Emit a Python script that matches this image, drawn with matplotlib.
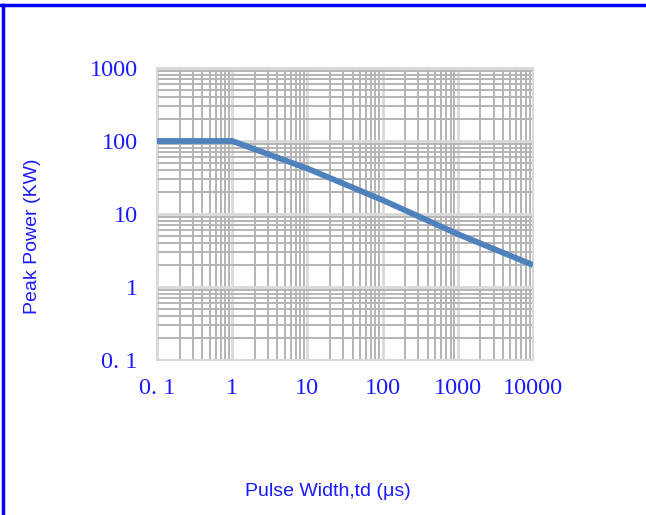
import matplotlib
matplotlib.use("Agg")
import matplotlib.pyplot as plt
from matplotlib.ticker import LogLocator, FixedLocator, NullFormatter
from matplotlib.lines import Line2D

# Data
pulse_width = [0.1, 1, 10, 100, 1000, 10000]
peak_power = [100, 100, 42, 15.5, 5.3, 2.0]
x_ticks = [0.1, 1, 10, 100, 1000, 10000]
x_labels = ["0. 1", "1", "10", "100", "1000", "10000"]
y_ticks = [0.1, 1, 10, 100, 1000]
y_labels = ["0. 1", "1", "10", "100", "1000"]

W, H = 646, 515
fig = plt.figure(figsize=(W / 100, H / 100), dpi=100)
ax = fig.add_axes([157 / W, 1 - 360 / H, (533 - 157) / W, (360 - 68) / H])

ax.set_xscale("log")
ax.set_yscale("log")
ax.set_xlim(0.1, 10000)
ax.set_ylim(0.1, 1000)

ax.xaxis.set_major_locator(FixedLocator(x_ticks))
ax.yaxis.set_major_locator(FixedLocator(y_ticks))
ax.xaxis.set_minor_locator(LogLocator(base=10, subs=range(2, 10), numticks=20))
ax.yaxis.set_minor_locator(LogLocator(base=10, subs=range(2, 10), numticks=20))
ax.xaxis.set_minor_formatter(NullFormatter())
ax.yaxis.set_minor_formatter(NullFormatter())
ax.set_xticklabels(x_labels)
ax.set_yticklabels(y_labels)

blue = "#1a1aff"
ax.tick_params(which="both", length=0)
ax.tick_params(axis="x", pad=13, labelsize=17.5, labelcolor=blue)
ax.tick_params(axis="y", pad=14, labelsize=17.5, labelcolor=blue)
for lab in ax.get_xticklabels() + ax.get_yticklabels():
    lab.set_fontfamily("Liberation Serif")

ax.grid(which="major", color="#d9d9d9", linewidth=2.0)
ax.grid(which="minor", color="#b4b4b4", linewidth=1.4)
ax.set_axisbelow(True)
for s in ax.spines.values():
    s.set_color("#d9d9d9")
    s.set_linewidth(1.5)

ax.plot(pulse_width, peak_power, color="#4f81bd", linewidth=4.2,
        solid_capstyle="butt", solid_joinstyle="miter", zorder=3)

fig.text(33 / W, 1 - 236 / H, "Peak Power (KW)", rotation=90, ha="center",
         va="center", color=blue, fontsize=14, family="Liberation Sans")
fig.text(328 / W, 1 - 492 / H, "Pulse Width,td (μs)", ha="center",
         va="center", color=blue, fontsize=14, family="Liberation Sans")

# blue border (top and left)
fig.add_artist(Line2D([0, 1], [1 - 5 / H, 1 - 5 / H], transform=fig.transFigure,
                      color="#0000ff", linewidth=2.5))
fig.add_artist(Line2D([3 / W, 3 / W], [0, 1 - 5 / H], transform=fig.transFigure,
                      color="#0000ff", linewidth=2.5))

fig.savefig("out.png", dpi=100)
